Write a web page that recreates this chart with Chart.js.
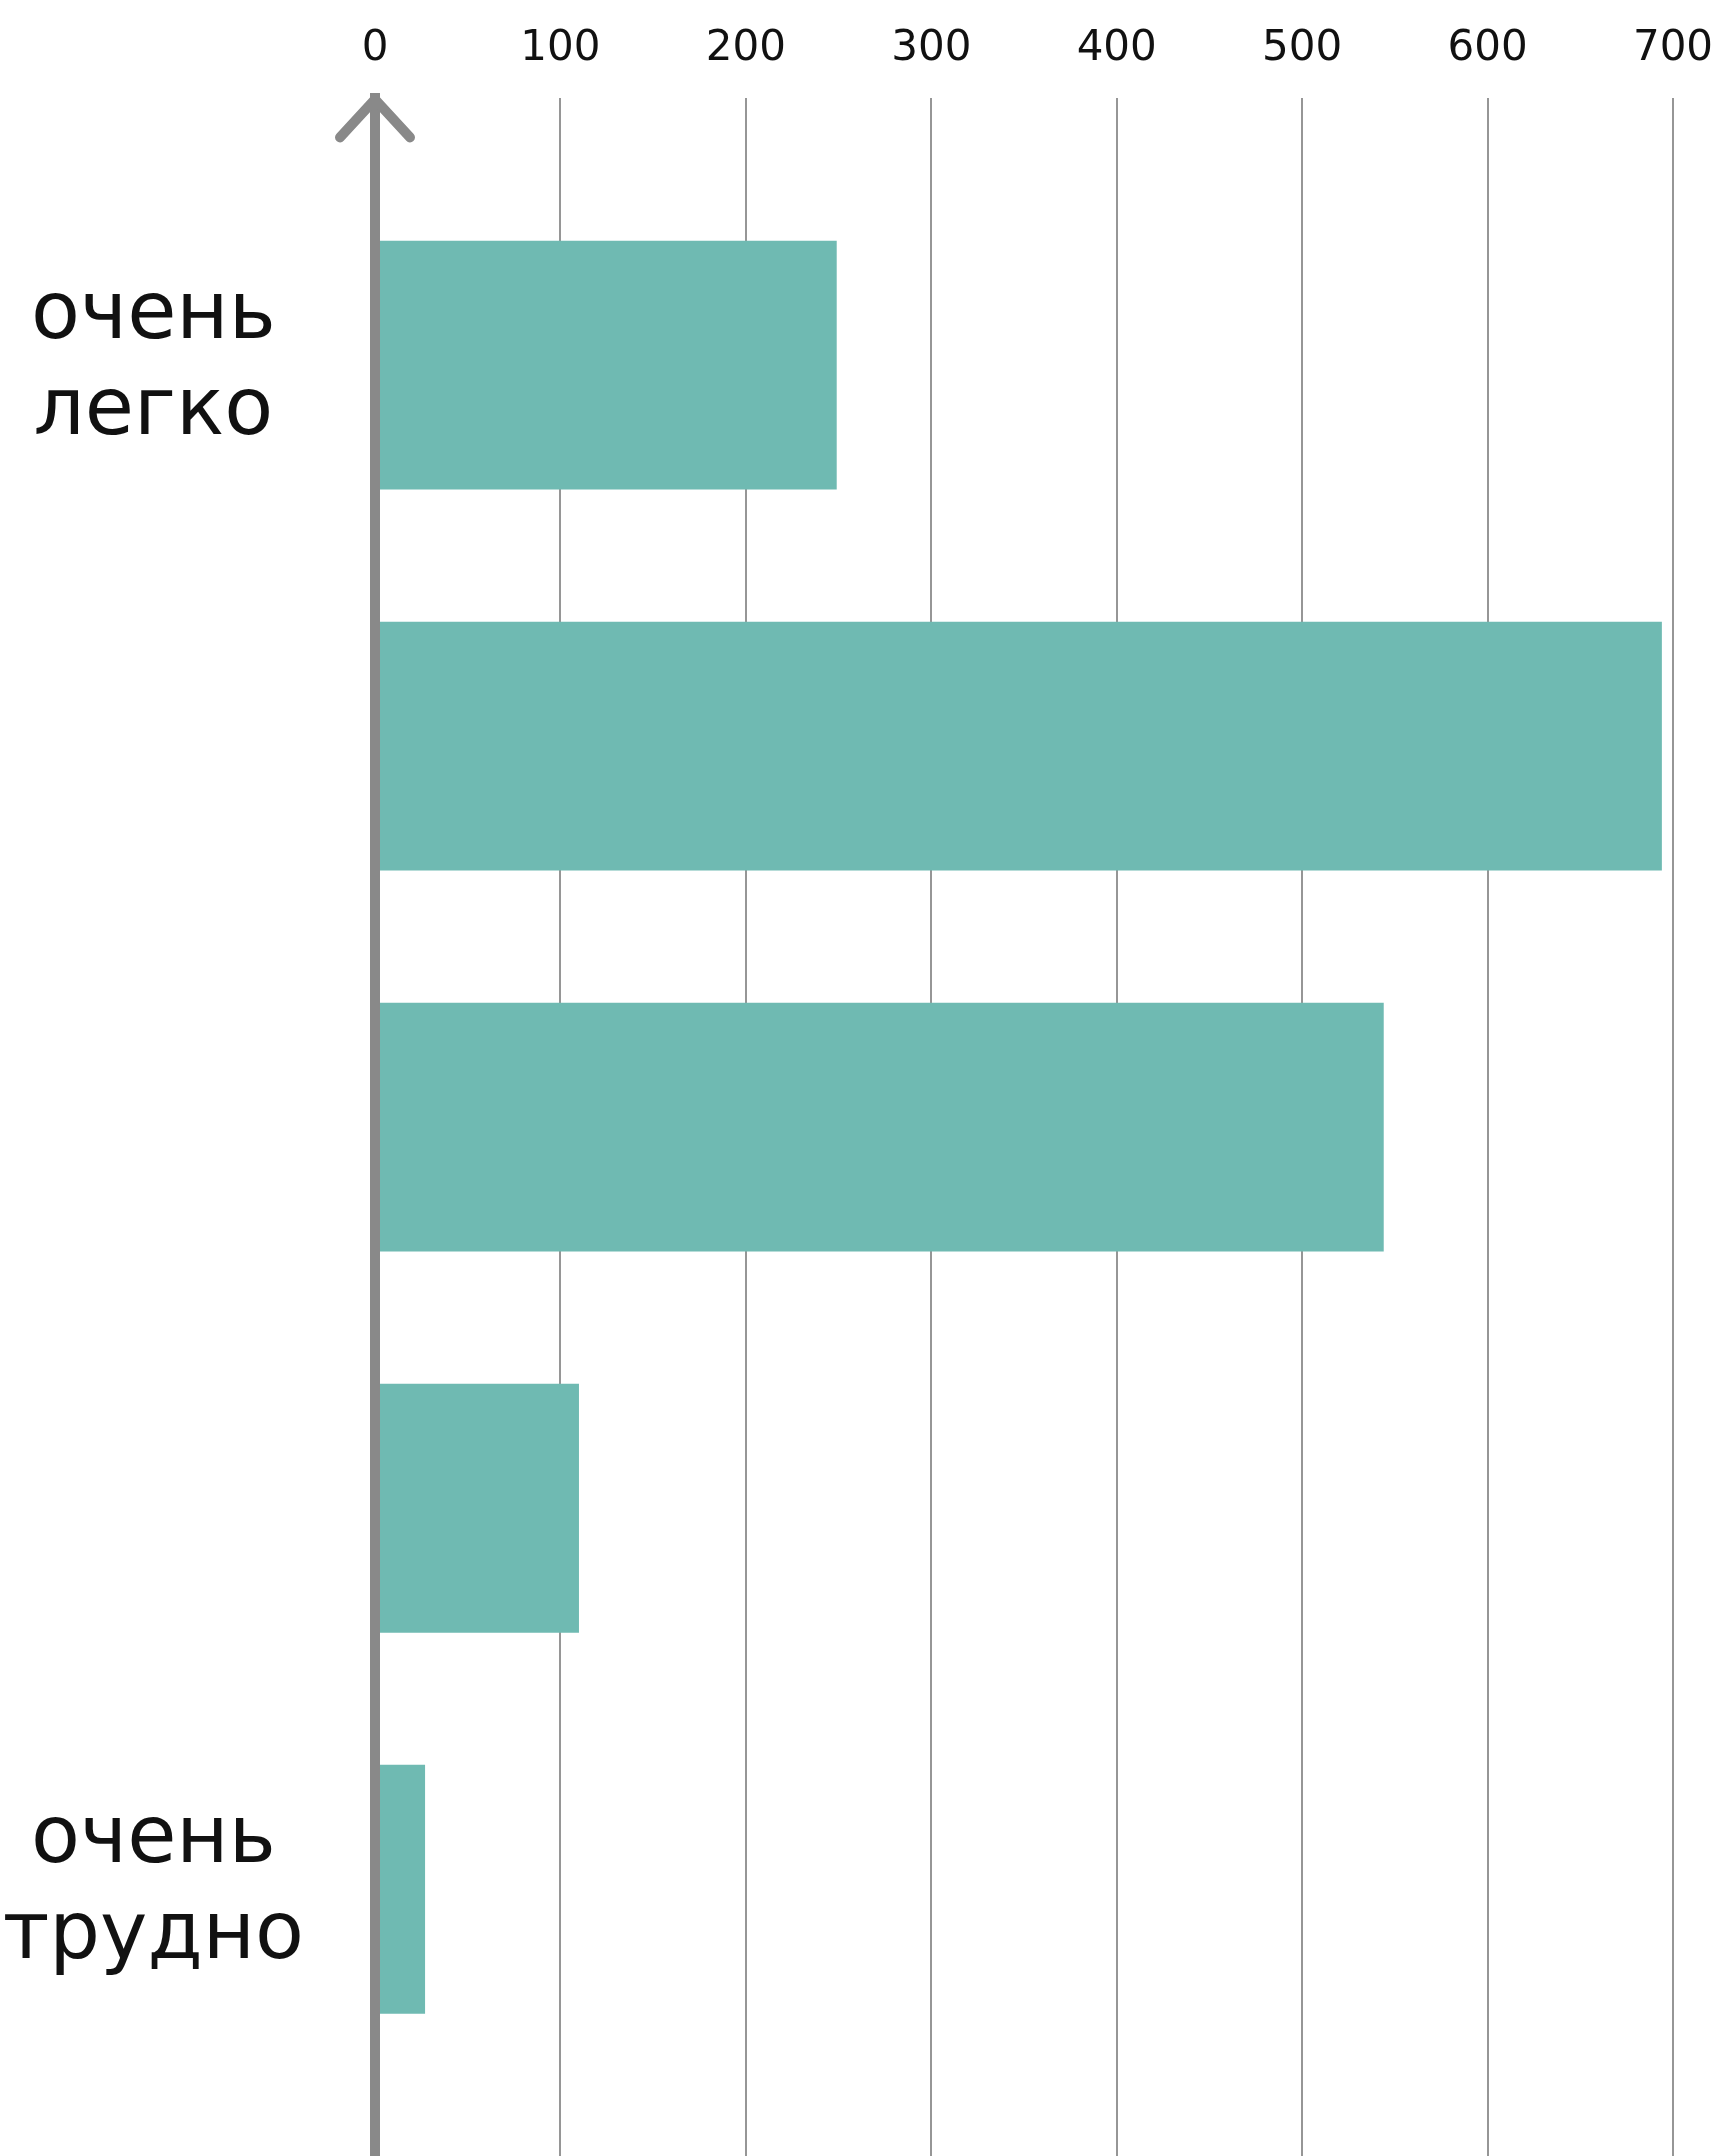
<!DOCTYPE html>
<html lang="ru">
<head>
<meta charset="utf-8">
<title>очень легко — очень трудно</title>
<script src="https://cdn.jsdelivr.net/npm/chart.js@4.4.1/dist/chart.umd.min.js"></script>
<style>
    html, body { margin: 0; padding: 0; background: #fff; }
    #wrap { width: 1731px; height: 2156px; position: relative; }
</style>
</head>
<body>
<div id="wrap"><canvas id="chart"></canvas></div>
<script>
// строки сверху вниз: от "очень легко" до "очень трудно"
const categories = [['очень', 'легко'], '', '', '', ['очень', 'трудно']];
const values = [249, 694, 544, 110, 27];
const xTicks = [0, 100, 200, 300, 400, 500, 600, 700];
const labeledRows = [0, 4];

const barColor = '#6fbab2';
const axisColor = '#898989';
const gridColor = '#969696';
const fontFamily = '"DejaVu Sans", sans-serif';

/**
 * Стрелка на конце вертикальной оси
 */
const axisArrow = {
    id: 'axisArrow',
    afterDraw(chart) {
        const ctx = chart.ctx;
        const x = chart.scales.x.getPixelForValue(0);
        const top = chart.chartArea.top + 1;
        ctx.save();
        ctx.strokeStyle = axisColor;
        ctx.lineWidth = 10;
        ctx.lineCap = 'round';
        ctx.lineJoin = 'round';
        ctx.beginPath();
        ctx.moveTo(x - 35, top + 38);
        ctx.lineTo(x, top);
        ctx.lineTo(x + 35, top + 38);
        ctx.stroke();
        ctx.restore();
    }
};

const ctx = document.getElementById('chart');

const chart = new Chart(ctx, {
    type: 'bar',
    data: {
        datasets: [{
            data: values.map((v, i) => ({ x: v, y: i })),
            backgroundColor: barColor,
            borderWidth: 0,
            categoryPercentage: 1,
            barPercentage: 0.653
        }]
    },
    options: {
        indexAxis: 'y',
        responsive: true,
        maintainAspectRatio: false,
        animation: false,
        layout: {
            padding: { top: 0, right: 58, bottom: 0, left: 0 }
        },
        plugins: {
            legend: { display: false },
            tooltip: { enabled: false }
        },
        scales: {
            x: {
                type: 'linear',
                position: 'top',
                min: xTicks[0],
                max: xTicks[xTicks.length - 1],
                afterBuildTicks: (scale) => {
                    scale.ticks = xTicks.map(v => ({ value: v }));
                },
                afterFit: (scale) => {
                    scale.paddingLeft = 0;
                    scale.paddingRight = 0;
                },
                grid: {
                    color: gridColor,
                    lineWidth: 2,
                    drawTicks: false
                },
                border: { display: false },
                ticks: {
                    color: '#111',
                    padding: 24,
                    font: { family: fontFamily, size: 42 }
                }
            },
            y: {
                type: 'linear',
                reverse: true,
                offset: false,
                min: -0.7,
                max: categories.length - 0.3,
                afterBuildTicks: (scale) => {
                    scale.ticks = labeledRows.map(v => ({ value: v }));
                },
                afterFit: (scale) => {
                    scale.width = 375;
                    scale.paddingTop = 0;
                    scale.paddingBottom = 0;
                },
                grid: { display: false, offset: false },
                border: {
                    display: true,
                    color: axisColor,
                    width: 10,
                    z: 1
                },
                ticks: {
                    color: '#111',
                    crossAlign: 'center',
                    padding: 63,
                    font: { family: fontFamily, size: 80, lineHeight: 1.2 },
                    callback: (value) => categories[value]
                }
            }
        }
    },
    plugins: [axisArrow]
});
</script>
</body>
</html>
